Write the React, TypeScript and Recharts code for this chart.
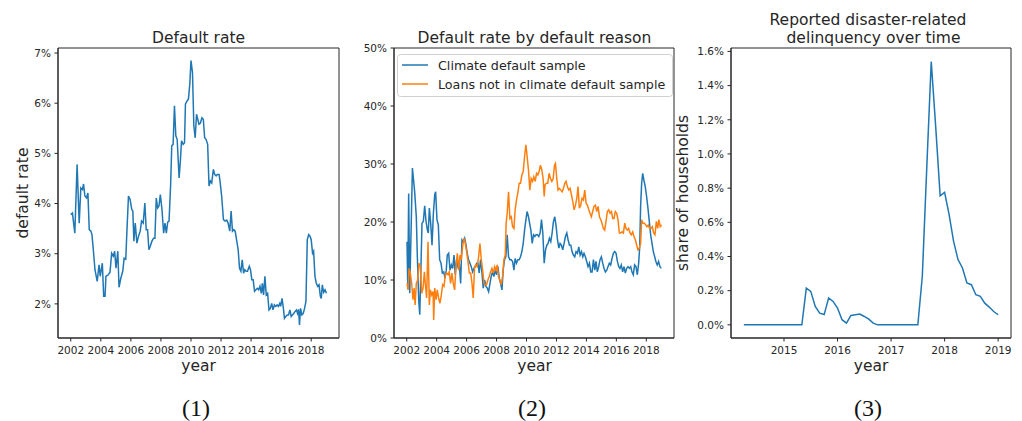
import React from 'react';
import { LineChart, Line, XAxis, YAxis, Legend, ReferenceArea } from 'recharts';

// Panel 1: overall default rate (%), by fractional year
const defaultYears = [
  2002.0, 2002.11, 2002.27, 2002.42, 2002.56, 2002.67, 2002.78, 2002.85, 2002.94, 2003.05, 2003.14, 2003.23,
  2003.34, 2003.41, 2003.5, 2003.61, 2003.76, 2003.88, 2003.96, 2004.1, 2004.19, 2004.28, 2004.34, 2004.5,
  2004.61, 2004.72, 2004.83, 2004.92, 2005.01, 2005.13, 2005.21, 2005.33, 2005.46, 2005.55, 2005.66, 2005.73,
  2005.84, 2005.95, 2006.06, 2006.13, 2006.2, 2006.29, 2006.4, 2006.51, 2006.62, 2006.71, 2006.82, 2006.93,
  2007.02, 2007.11, 2007.2, 2007.29, 2007.4, 2007.51, 2007.6, 2007.69, 2007.78, 2007.87, 2007.96, 2008.07,
  2008.18, 2008.27, 2008.36, 2008.45, 2008.54, 2008.65, 2008.72, 2008.81, 2008.9, 2008.99, 2009.08, 2009.21,
  2009.3, 2009.37, 2009.48, 2009.57, 2009.63, 2009.75, 2009.83, 2009.92, 2010.0, 2010.1, 2010.19, 2010.28,
  2010.37, 2010.53, 2010.62, 2010.73, 2010.82, 2010.91, 2011.0, 2011.11, 2011.2, 2011.29, 2011.38, 2011.49,
  2011.58, 2011.67, 2011.75, 2011.87, 2011.93, 2012.04, 2012.16, 2012.27, 2012.38, 2012.47, 2012.58, 2012.67,
  2012.76, 2012.85, 2012.94, 2013.03, 2013.14, 2013.23, 2013.32, 2013.41, 2013.5, 2013.58, 2013.67, 2013.76,
  2013.88, 2013.96, 2014.05, 2014.14, 2014.23, 2014.32, 2014.41, 2014.5, 2014.59, 2014.68, 2014.75, 2014.83,
  2014.92, 2015.01, 2015.1, 2015.19, 2015.28, 2015.37, 2015.46, 2015.55, 2015.64, 2015.73, 2015.82, 2015.91,
  2015.97, 2016.06, 2016.15, 2016.22, 2016.31, 2016.4, 2016.49, 2016.58, 2016.67, 2016.75, 2016.84, 2016.93,
  2017.02, 2017.09, 2017.16, 2017.22, 2017.29, 2017.38, 2017.47, 2017.56, 2017.65, 2017.74, 2017.83, 2017.92,
  2018.0, 2018.09, 2018.16, 2018.25, 2018.34, 2018.43, 2018.52, 2018.61, 2018.67, 2018.74, 2018.83, 2018.92,
  2019.01,
];
const defaultRate = [
  3.78, 3.81, 3.41, 4.78, 3.61, 4.31, 4.28, 4.39, 4.15, 4.11, 4.21, 3.48,
  3.45, 3.38, 3.08, 2.68, 2.45, 2.78, 2.55, 2.81, 2.15, 2.15, 2.55, 2.58,
  2.63, 3.01, 2.95, 3.05, 2.71, 3.05, 2.33, 2.51, 2.65, 2.91, 2.89, 3.41,
  4.15, 4.08, 3.88, 3.85, 3.25, 3.61, 3.21, 3.35, 3.45, 3.65, 3.61, 4.01,
  3.48, 3.48, 3.08, 3.15, 3.25, 3.31, 3.31, 4.11, 3.91, 3.95, 4.18, 3.88,
  3.41, 3.61, 3.41, 3.63, 3.65, 4.41, 5.15, 5.18, 5.95, 5.35, 5.28, 4.51,
  4.88, 5.25, 5.18, 5.21, 5.98, 6.05, 6.08, 6.38, 6.85, 6.61, 5.55, 5.31,
  5.78, 5.58, 5.6, 5.71, 5.68, 5.31, 5.28, 5.18, 4.35, 4.45, 4.41, 4.68,
  4.58, 4.55, 4.58, 4.58, 4.45, 4.15, 3.68, 3.65, 3.67, 3.61, 3.45, 3.85,
  3.45, 3.48, 3.45, 3.28, 3.08, 2.71, 2.65, 2.88, 2.61, 2.68, 2.65, 2.65,
  2.75, 2.68, 2.48, 2.48, 2.25, 2.28, 2.31, 2.28, 2.35, 2.21, 2.41, 2.18,
  2.55, 2.18, 2.21, 1.88, 1.91, 2.01, 1.88, 1.98, 1.95, 1.98, 1.95, 2.01,
  1.95, 2.11, 1.91, 1.71, 1.75, 1.78, 1.78, 1.88, 1.75, 1.78, 1.81, 1.85,
  1.88, 1.81, 1.89, 1.58, 1.91, 1.78, 1.81, 1.91, 2.05, 3.28, 3.38, 3.35,
  3.28, 3.01, 3.05, 2.55, 2.41, 2.35, 2.38, 2.15, 2.11, 2.38, 2.23, 2.28,
  2.21,
];

// Panel 2: default rate (%) of loans in the climate default sample
const climateYears = [
  2002.02, 2002.07, 2002.13, 2002.2, 2002.38, 2002.53, 2002.64, 2002.71, 2002.8, 2002.87, 2002.93, 2003.02,
  2003.11, 2003.2, 2003.29, 2003.38, 2003.44, 2003.51, 2003.6, 2003.69, 2003.78, 2003.87, 2003.93, 2004.02,
  2004.11, 2004.2, 2004.29, 2004.38, 2004.47, 2004.56, 2004.64, 2004.71, 2004.8, 2004.89, 2004.98, 2005.07,
  2005.16, 2005.24, 2005.33, 2005.42, 2005.51, 2005.6, 2005.69, 2005.78, 2005.87, 2005.96, 2006.04, 2006.13,
  2006.22, 2006.31, 2006.4, 2006.49, 2006.58, 2006.67, 2006.76, 2006.84, 2006.93, 2007.02, 2007.11, 2007.2,
  2007.29, 2007.38, 2007.47, 2007.56, 2007.64, 2007.73, 2007.82, 2007.91, 2008.0, 2008.09, 2008.18, 2008.27,
  2008.36, 2008.44, 2008.53, 2008.62, 2008.71, 2008.8, 2008.89, 2008.98, 2009.07, 2009.16, 2009.24, 2009.33,
  2009.42, 2009.51, 2009.6, 2009.69, 2009.78, 2009.87, 2009.96, 2010.04, 2010.13, 2010.29, 2010.38, 2010.47,
  2010.56, 2010.64, 2010.73, 2010.82, 2010.91, 2011.0, 2011.09, 2011.18, 2011.27, 2011.36, 2011.44, 2011.53,
  2011.62, 2011.71, 2011.8, 2011.89, 2011.98, 2012.07, 2012.16, 2012.24, 2012.33, 2012.42, 2012.51, 2012.6,
  2012.69, 2012.78, 2012.87, 2012.96, 2013.04, 2013.13, 2013.22, 2013.31, 2013.4, 2013.49, 2013.58, 2013.67,
  2013.76, 2013.84, 2013.93, 2014.02, 2014.11, 2014.2, 2014.29, 2014.38, 2014.47, 2014.56, 2014.64, 2014.73,
  2014.82, 2014.91, 2015.0, 2015.09, 2015.18, 2015.27, 2015.36, 2015.44, 2015.53, 2015.62, 2015.71, 2015.8,
  2015.89, 2015.98, 2016.07, 2016.16, 2016.24, 2016.33, 2016.42, 2016.51, 2016.6, 2016.69, 2016.78, 2016.87,
  2016.96, 2017.04, 2017.13, 2017.22, 2017.31, 2017.4, 2017.49, 2017.56, 2017.62, 2017.69, 2017.76, 2017.84,
  2017.93, 2018.02, 2018.11, 2018.2, 2018.29, 2018.38, 2018.47, 2018.56, 2018.64, 2018.73, 2018.82, 2018.91,
  2019.0,
];
const climateRate = [
  16.6, 8.5, 24.9, 7.7, 29.3, 25.2, 20.9, 14.0, 6.6, 4.0, 10.0, 19.8,
  20.1, 22.8, 20.1, 18.6, 18.1, 22.4, 19.8, 16.0, 21.5, 24.7, 25.2, 20.4,
  19.5, 13.5, 12.9, 11.2, 11.4, 10.3, 11.7, 14.3, 14.6, 11.7, 12.6, 12.0,
  14.3, 10.9, 13.5, 12.3, 12.9, 9.4, 16.9, 16.6, 17.2, 16.0, 14.6, 13.5,
  12.9, 12.3, 11.4, 12.0, 12.3, 12.9, 12.9, 11.2, 13.5, 11.4, 8.6, 10.0,
  8.9, 8.6, 8.0, 9.4, 10.6, 11.4, 10.6, 11.7, 10.9, 12.3, 10.3, 9.4,
  8.3, 11.7, 13.5, 14.0, 17.8, 14.0, 13.5, 13.5, 13.2, 11.7, 13.7, 12.9,
  13.5, 13.5, 14.0, 14.9, 16.3, 18.6, 20.4, 21.8, 20.9, 18.6, 16.3, 17.8,
  17.5, 17.8, 17.8, 17.5, 18.1, 20.4, 18.1, 12.9, 15.2, 16.0, 16.3, 17.2,
  16.6, 18.1, 20.1, 20.9, 19.2, 16.9, 15.5, 16.3, 16.0, 15.2, 16.3, 17.5,
  18.1, 16.9, 16.0, 16.0, 14.9, 14.3, 14.0, 14.9, 14.6, 15.7, 14.3, 14.9,
  14.0, 14.6, 14.0, 13.2, 12.3, 12.9, 11.4, 11.4, 13.5, 11.7, 13.2, 11.4,
  12.3, 13.5, 14.0, 12.9, 12.0, 11.4, 11.7, 12.3, 12.9, 12.6, 13.7, 14.6,
  14.9, 14.6, 13.2, 12.3, 12.0, 12.6, 11.4, 12.3, 11.2, 12.0, 12.3, 12.0,
  12.3, 11.4, 10.9, 12.6, 12.3, 10.9, 12.9, 15.7, 22.7, 26.7, 28.4, 27.2,
  26.1, 24.4, 22.4, 20.1, 17.8, 16.3, 14.9, 14.0, 13.2, 12.6, 13.2, 12.3,
  12.0,
];

// Panel 2: default rate (%) of loans outside the climate default sample
const otherYears = [
  2002.02, 2002.09, 2002.16, 2002.24, 2002.33, 2002.42, 2002.49, 2002.56, 2002.64, 2002.73, 2002.82, 2002.91,
  2003.0, 2003.09, 2003.18, 2003.24, 2003.33, 2003.42, 2003.51, 2003.58, 2003.67, 2003.76, 2003.8, 2003.87,
  2003.96, 2004.04, 2004.13, 2004.22, 2004.31, 2004.4, 2004.49, 2004.58, 2004.67, 2004.76, 2004.84, 2004.93,
  2005.02, 2005.11, 2005.2, 2005.29, 2005.38, 2005.47, 2005.56, 2005.64, 2005.73, 2005.82, 2005.91, 2006.0,
  2006.09, 2006.18, 2006.27, 2006.36, 2006.44, 2006.53, 2006.62, 2006.71, 2006.8, 2006.89, 2006.98, 2007.07,
  2007.16, 2007.24, 2007.33, 2007.42, 2007.51, 2007.6, 2007.69, 2007.78, 2007.87, 2007.96, 2008.04, 2008.13,
  2008.22, 2008.31, 2008.4, 2008.49, 2008.58, 2008.64, 2008.71, 2008.8, 2008.89, 2008.98, 2009.07, 2009.16,
  2009.24, 2009.33, 2009.42, 2009.51, 2009.6, 2009.69, 2009.78, 2009.87, 2009.96, 2010.04, 2010.13, 2010.22,
  2010.31, 2010.4, 2010.49, 2010.58, 2010.67, 2010.76, 2010.84, 2010.93, 2011.02, 2011.11, 2011.18, 2011.24,
  2011.33, 2011.42, 2011.51, 2011.6, 2011.69, 2011.78, 2011.87, 2011.93, 2012.02, 2012.11, 2012.2, 2012.29,
  2012.38, 2012.47, 2012.56, 2012.64, 2012.73, 2012.82, 2012.91, 2013.0, 2013.09, 2013.18, 2013.27, 2013.36,
  2013.44, 2013.53, 2013.62, 2013.71, 2013.8, 2013.89, 2013.98, 2014.07, 2014.16, 2014.24, 2014.33, 2014.42,
  2014.51, 2014.6, 2014.69, 2014.78, 2014.87, 2014.96, 2015.04, 2015.13, 2015.22, 2015.31, 2015.4, 2015.49,
  2015.58, 2015.67, 2015.76, 2015.84, 2015.93, 2016.02, 2016.11, 2016.2, 2016.29, 2016.38, 2016.47, 2016.56,
  2016.64, 2016.73, 2016.82, 2016.91, 2017.0, 2017.09, 2017.18, 2017.27, 2017.36, 2017.44, 2017.53, 2017.62,
  2017.69, 2017.78, 2017.87, 2017.96, 2018.04, 2018.13, 2018.22, 2018.31, 2018.4, 2018.49, 2018.58, 2018.67,
  2018.76, 2018.84, 2018.93, 2019.02,
];
const otherRate = [
  9.4, 8.3, 12.0, 11.2, 9.4, 6.6, 8.6, 5.7, 9.4, 10.0, 12.9, 12.3,
  7.7, 8.6, 11.4, 9.4, 6.9, 16.6, 5.7, 8.3, 7.4, 8.0, 3.1, 8.6,
  6.6, 8.3, 6.9, 6.0, 7.4, 9.2, 8.9, 10.9, 11.2, 10.9, 11.4, 9.4,
  11.2, 9.4, 8.3, 12.3, 14.6, 11.7, 14.3, 13.5, 15.7, 17.2, 16.3, 14.9,
  13.2, 11.2, 11.2, 9.4, 6.9, 12.3, 12.6, 12.3, 14.0, 16.3, 13.5, 11.7,
  9.4, 9.2, 9.2, 10.0, 10.6, 11.4, 12.0, 11.2, 12.3, 11.7, 12.6, 10.6,
  10.0, 9.2, 10.6, 13.5, 14.3, 19.8, 21.5, 25.2, 20.6, 20.9, 19.2, 18.9,
  22.1, 23.8, 25.0, 26.7, 26.7, 28.1, 28.7, 31.3, 33.3, 31.3, 29.0, 25.5,
  27.5, 27.0, 27.8, 27.0, 28.4, 28.1, 28.7, 29.8, 29.0, 27.5, 24.4, 26.4,
  26.7, 26.7, 28.4, 27.5, 27.0, 27.5, 29.8, 30.1, 27.5, 25.5, 25.8, 25.5,
  25.2, 25.8, 26.7, 27.0, 26.1, 25.5, 25.8, 24.7, 23.5, 22.1, 22.9, 24.1,
  26.1, 22.4, 22.9, 24.1, 23.8, 25.5, 23.2, 22.9, 22.1, 21.5, 20.9, 21.8,
  22.7, 22.9, 21.8, 22.7, 20.9, 20.4, 19.8, 18.9, 18.6, 20.1, 21.8, 22.1,
  21.5, 21.8, 20.6, 20.6, 21.8, 21.5, 20.4, 18.1, 18.1, 18.3, 18.1, 19.8,
  18.9, 18.6, 18.9, 18.1, 17.8, 18.3, 17.5, 16.9, 16.0, 15.2, 15.5, 16.3,
  20.4, 19.8, 19.8, 19.5, 19.2, 19.5, 18.9, 18.9, 19.2, 18.1, 17.8, 20.1,
  18.9, 20.4, 19.2, 19.5,
];

// Panel 3: share of households (%) reporting disaster-related delinquency
const disasterMonths = [
  '2014-04', '2014-05', '2014-06', '2014-07', '2014-08', '2014-09', '2014-10', '2014-11', '2014-12',
  '2015-01', '2015-02', '2015-03', '2015-04', '2015-05', '2015-06', '2015-07', '2015-08', '2015-09', '2015-10', '2015-11', '2015-12',
  '2016-01', '2016-02', '2016-03', '2016-04', '2016-05', '2016-06', '2016-07', '2016-08', '2016-09', '2016-10', '2016-11', '2016-12',
  '2017-01', '2017-02', '2017-03', '2017-04', '2017-05', '2017-06', '2017-07', '2017-08', '2017-09', '2017-10', '2017-11', '2017-12',
  '2018-01', '2018-02', '2018-03', '2018-04', '2018-05', '2018-06', '2018-07', '2018-08', '2018-09', '2018-10', '2018-11', '2018-12',
  '2019-01',
];
const disasterShare = [
  0, 0, 0, 0, 0, 0, 0, 0, 0,
  0, 0, 0, 0, 0, 0.215, 0.196, 0.108, 0.068, 0.06, 0.157, 0.137,
  0.098, 0.03, 0.01, 0.055, 0.059, 0.063, 0.049, 0.033, 0.01, 0, 0, 0,
  0, 0, 0, 0, 0, 0, 0, 0.284, 0.92, 1.54, 1.16, 0.755,
  0.775, 0.647, 0.49, 0.382, 0.333, 0.245, 0.235, 0.176, 0.167, 0.127, 0.104, 0.078,
  0.059,
];

const yearTicks = [2002, 2004, 2006, 2008, 2010, 2012, 2014, 2016, 2018];
const rateTicks = [2, 3, 4, 5, 6, 7];
const reasonTicks = [0, 10, 20, 30, 40, 50];
const disasterYearTicks = [2015, 2016, 2017, 2018, 2019];
const shareTicks = [0, 0.2, 0.4, 0.6, 0.8, 1.0, 1.2, 1.4, 1.6];

// axis ranges (with matplotlib-like 5% padding)
const yearDomain: [number, number] = [2001.15, 2019.85];
const rateDomain: [number, number] = [1.32, 7.1];
const reasonDomain: [number, number] = [0, 50];
const disasterYearDomain: [number, number] = [2014.01, 2019.24];
const shareDomain: [number, number] = [-0.077, 1.62];

const BLUE = '#1f77b4';
const ORANGE = '#ff7f0e';
const INK = '#262626';
const FONT = 'DejaVu Sans, sans-serif';

const tickStyle = { fontSize: 10.5, fill: INK, fontFamily: FONT };

const toRows = (xs: number[], ys: number[]) => xs.map((year, i) => ({ year, value: ys[i] }));
const monthToYear = (m: string) => {
  const [y, mo] = m.split('-').map(Number);
  return y + (mo - 1) / 12;
};

const defaultRows = toRows(defaultYears, defaultRate);
const climateRows = toRows(climateYears, climateRate);
const otherRows = toRows(otherYears, otherRate);
const disasterRows = toRows(disasterMonths.map(monthToYear), disasterShare);

const pct = (v: number) => `${v}%`;
const pct1 = (v: number) => `${v.toFixed(1)}%`;

// matplotlib-style legend box for the middle panel
const ReasonLegend = (props: any) => {
  const items = props.payload || [];
  return (
    <svg width={276} height={43} style={{ display: 'block' }}>
      <rect x={0.5} y={0.5} width={275} height={42} rx={3} fill="rgba(255,255,255,0.8)" stroke="#d0d0d0" />
      {items.map((item: any, i: number) => (
        <g key={item.value}>
          <line x1={5} x2={31} y1={11 + i * 19} y2={11 + i * 19} stroke={item.color} strokeWidth={1.5} />
          <text x={41} y={15.5 + i * 19} fontSize={12.7} fill={INK} fontFamily={FONT}>
            {item.value}
          </text>
        </g>
      ))}
    </svg>
  );
};

// full plot frame (all four spines)
const frame = (xd: [number, number], yd: [number, number]) => (
  <ReferenceArea x1={xd[0]} x2={xd[1]} y1={yd[0]} y2={yd[1]} fill="none" stroke={INK} strokeWidth={1} ifOverflow="visible" />
);

export default function App() {
  return (
    <div style={{ position: 'absolute', left: 0, top: 0, width: 1022, height: 421, background: '#fff', fontFamily: FONT, overflow: 'hidden' }}>
      <div style={{ position: 'absolute', left: 0, top: 0 }}>
        <LineChart width={345} height={380} data={defaultRows} margin={{ top: 48, right: 6, bottom: 0, left: 0 }}>
          <XAxis dataKey="year" type="number" domain={yearDomain} allowDataOverflow ticks={yearTicks} interval={0}
            height={42} tick={tickStyle} tickSize={3.5} tickMargin={5} stroke={INK} />
          <YAxis type="number" domain={rateDomain} allowDataOverflow ticks={rateTicks} interval={0}
            width={58} tick={tickStyle} tickSize={3.5} tickMargin={3.5} tickFormatter={pct} stroke={INK} />
          {frame(yearDomain, rateDomain)}
          <Line dataKey="value" stroke={BLUE} strokeWidth={1.5} dot={false} isAnimationActive={false} />
        </LineChart>
      </div>

      <div style={{ position: 'absolute', left: 345, top: 0 }}>
        <LineChart width={335} height={380} margin={{ top: 48, right: 6, bottom: 0, left: 0 }}>
          <XAxis dataKey="year" type="number" domain={yearDomain} allowDataOverflow ticks={yearTicks} interval={0}
            height={42} tick={tickStyle} tickSize={3.5} tickMargin={5} stroke={INK} />
          <YAxis type="number" domain={reasonDomain} allowDataOverflow ticks={reasonTicks} interval={0}
            width={49} tick={tickStyle} tickSize={3.5} tickMargin={3.5} tickFormatter={pct} stroke={INK} />
          {frame(yearDomain, reasonDomain)}
          <Line data={climateRows} dataKey="value" name="Climate default sample" stroke={BLUE} strokeWidth={1.5} dot={false} isAnimationActive={false} />
          <Line data={otherRows} dataKey="value" name="Loans not in climate default sample" stroke={ORANGE} strokeWidth={1.5} dot={false} isAnimationActive={false} />
          <Legend layout="vertical" align="center" verticalAlign="middle" wrapperStyle={{ left: 52, top: 54, width: 276, height: 43 }}
            content={ReasonLegend} />
        </LineChart>
      </div>

      <div style={{ position: 'absolute', left: 680, top: 0 }}>
        <LineChart width={337} height={380} data={disasterRows} margin={{ top: 48, right: 6, bottom: 0, left: 0 }}>
          <XAxis dataKey="year" type="number" domain={disasterYearDomain} allowDataOverflow ticks={disasterYearTicks} interval={0}
            height={42} tick={tickStyle} tickSize={3.5} tickMargin={5} stroke={INK} />
          <YAxis type="number" domain={shareDomain} allowDataOverflow ticks={shareTicks} interval={0}
            width={51} tick={tickStyle} tickSize={3.5} tickMargin={3.5} tickFormatter={pct1} stroke={INK} />
          {frame(disasterYearDomain, shareDomain)}
          <Line dataKey="value" stroke={BLUE} strokeWidth={1.5} dot={false} isAnimationActive={false} />
        </LineChart>
      </div>

      {/* titles, axis labels and panel captions */}
      <svg width={1022} height={421} style={{ position: 'absolute', left: 0, top: 0, pointerEvents: 'none' }}>
        <g fontFamily={FONT} fontSize={15.5} fill={INK} textAnchor="middle">
          <text x={198.5} y={42.5}>Default rate</text>
          <text x={534.5} y={42.5}>Default rate by default reason</text>
          <text x={868} y={25}>Reported disaster-related</text>
          <text x={873.5} y={42.5}>delinquency over time</text>
          <text x={198.5} y={370.5}>year</text>
          <text x={534.5} y={370.5}>year</text>
          <text x={871} y={370.5}>year</text>
          <text transform="translate(27.5,193) rotate(-90)">default rate</text>
          <text transform="translate(688,193) rotate(-90)">share of households</text>
        </g>
        <g fontFamily="Liberation Serif, serif" fontSize={24} fill="#111" textAnchor="middle">
          <text x={196} y={416}>(1)</text>
          <text x={532} y={416}>(2)</text>
          <text x={868} y={416}>(3)</text>
        </g>
      </svg>
    </div>
  );
}
